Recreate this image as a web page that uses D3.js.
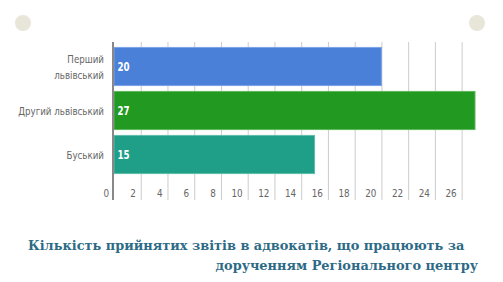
<!DOCTYPE html>
<html><head><meta charset="utf-8">
<script src="https://cdn.jsdelivr.net/npm/d3@7"></script>
<style>body{margin:0;background:#fff}svg{display:block}
.cond{font-family:'DejaVu Sans',sans-serif}
.ttl{font-family:'DejaVu Serif',serif;font-weight:bold}
</style>
</head><body>
<svg id="c" width="503" height="282"></svg>
<script>
const categories = [["Перший","львівський"],["Другий львівський"],["Буський"]];
const values = [20, 27, 15];
const colors = ["#4a80d8", "#229a22", "#1f9e88"];
const borders = ["#7ba3e6", "#5cb85c", "#5cbcaa"];
const ticks = [0,2,4,6,8,10,12,14,16,18,20,22,24,26];
const titleLines = ["Кількість прийнятих звітів в адвокатів, що працюють за","дорученням Регіонального центру"];

const svg = d3.select("#c");
const x = d3.scaleLinear().domain([0, 27]).range([114, 475]);
const y = d3.scaleBand().domain(d3.range(values.length)).range([44.5, 176.5]).paddingInner(0.11).paddingOuter(0.055);

svg.append("circle").attr("cx",23).attr("cy",23).attr("r",8).attr("fill","#e8e5d9");
svg.append("circle").attr("cx",477).attr("cy",23).attr("r",8).attr("fill","#e8e5d9");

svg.selectAll("line.g").data(ticks.filter(t=>t>0)).join("line")
  .attr("x1",d=>x(d)+0.5).attr("x2",d=>x(d)+0.5).attr("y1",42).attr("y2",200)
  .attr("stroke","#cccccc").attr("stroke-width",1);

svg.selectAll("g.t").data(ticks).join("g")
  .attr("transform",d=>`translate(${x(d)-5},197) scale(0.8,1)`)
  .append("text").attr("class","cond").attr("text-anchor","end")
  .attr("font-size",11).attr("fill","#666").text(d=>d);

svg.selectAll("rect.b").data(values).join("rect")
  .attr("x",x(0)).attr("y",(d,i)=>y(i)+0.5)
  .attr("width",d=>x(d)-x(0)).attr("height",y.bandwidth()-1)
  .attr("fill",(d,i)=>colors[i]).attr("stroke",(d,i)=>borders[i]).attr("stroke-width",1);

svg.selectAll("g.v").data(values).join("g")
  .attr("transform",(d,i)=>`translate(${x(0)+3.5},${y(i)+y.bandwidth()/2+4.5}) scale(0.76,1)`)
  .append("text").attr("class","cond")
  .attr("font-size",11.5).attr("font-weight","bold").attr("fill","#fff").text(d=>d);

categories.forEach((lines,i)=>{
  const cy = y(i)+y.bandwidth()/2;
  const n = lines.length;
  const t = svg.append("g").attr("transform",`translate(104,${cy}) scale(0.79,1)`)
    .append("text").attr("class","cond").attr("text-anchor","end")
    .attr("font-size",11).attr("fill","#666");
  lines.forEach((l,j)=>{
    t.append("tspan").attr("x",0).attr("y",4.2 + (j-(n-1)/2)*16).text(l);
  });
});

svg.append("line").attr("x1",113).attr("x2",113).attr("y1",42).attr("y2",200)
  .attr("stroke","#888").attr("stroke-width",2);

svg.append("text").attr("class","ttl").attr("x",28).attr("y",250)
  .attr("font-size",12.9).attr("fill","#2d6a86").text(titleLines[0]);
svg.append("text").attr("class","ttl").attr("x",478).attr("y",270).attr("text-anchor","end")
  .attr("font-size",12.9).attr("fill","#2d6a86").text(titleLines[1]);
</script>
</body></html>
